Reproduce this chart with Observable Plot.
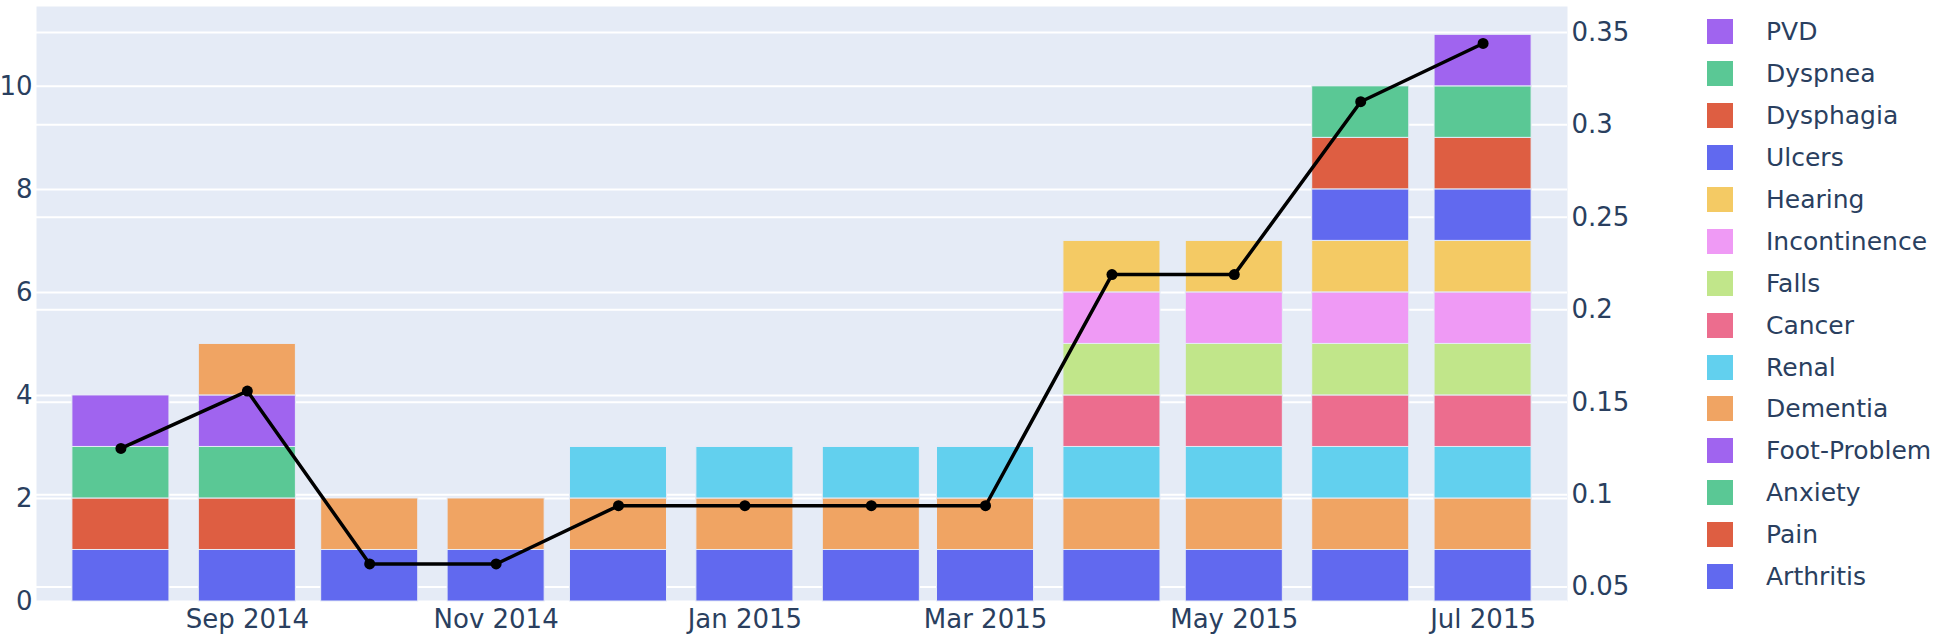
<!DOCTYPE html>
<html>
<head>
<meta charset="utf-8">
<script src="https://cdn.jsdelivr.net/npm/d3@7"></script>
<script src="https://cdn.jsdelivr.net/npm/@observablehq/plot@0.6"></script>
<style>
  html, body { margin: 0; padding: 0; background: #ffffff; }
  #wrap { position: relative; width: 1944px; height: 641px; font-family: "DejaVu Sans", Verdana, sans-serif; }
  #legend { position: absolute; left: 1707px; top: 11px; color: #2a3f5f; font-size: 25px; }
  .row { display: flex; align-items: center; height: 41.9px; }
  .sw { width: 26px; height: 25px; margin-right: 33px; }
</style>
</head>
<body>
<div id="wrap"><div id="chart"></div><div id="legend"></div></div>
<script>
// ---- data ----
const months = ["2014-08-01","2014-09-01","2014-10-01","2014-11-01","2014-12-01","2015-01-01",
                "2015-02-01","2015-03-01","2015-04-01","2015-05-01","2015-06-01","2015-07-01"];
const seriesNames = ["Arthritis","Pain","Anxiety","Foot-Problem","Dementia","Renal","Cancer",
                     "Falls","Incontinence","Hearing","Ulcers","Dysphagia","Dyspnea","PVD"];
const seriesColors = ["#6169ef","#de5e42","#5ac895","#a064ef","#f0a463","#62d0ee","#ec6d8e",
                      "#c1e68a","#ef9af5","#f4ca64","#6169ef","#de5e42","#5ac895","#a064ef"];
const arthritis    = [1,1,1,1,1,1,1,1,1,1,1,1];
const pain         = [1,1,0,0,0,0,0,0,0,0,0,0];
const anxiety      = [1,1,0,0,0,0,0,0,0,0,0,0];
const footProblem  = [1,1,0,0,0,0,0,0,0,0,0,0];
const dementia     = [0,1,1,1,1,1,1,1,1,1,1,1];
const renal        = [0,0,0,0,1,1,1,1,1,1,1,1];
const cancer       = [0,0,0,0,0,0,0,0,1,1,1,1];
const falls        = [0,0,0,0,0,0,0,0,1,1,1,1];
const incontinence = [0,0,0,0,0,0,0,0,1,1,1,1];
const hearing      = [0,0,0,0,0,0,0,0,1,1,1,1];
const ulcers       = [0,0,0,0,0,0,0,0,0,0,1,1];
const dysphagia    = [0,0,0,0,0,0,0,0,0,0,1,1];
const dyspnea      = [0,0,0,0,0,0,0,0,0,0,1,1];
const pvd          = [0,0,0,0,0,0,0,0,0,0,0,1];
const ratio = [0.125,0.156,0.0625,0.0625,0.094,0.094,0.094,0.094,0.219,0.219,0.3125,0.344];
const leftTicks = [0,2,4,6,8,10];
const rightTicks = [0.05,0.1,0.15,0.2,0.25,0.3,0.35];
const xTickDates = ["2014-09-01","2014-11-01","2015-01-01","2015-03-01","2015-05-01","2015-07-01"];

// ---- build tables ----
const seriesValues = [arthritis,pain,anxiety,footProblem,dementia,renal,cancer,falls,incontinence,hearing,ulcers,dysphagia,dyspnea,pvd];
const dates = months.map(d => new Date(d + "T00:00:00Z"));
const rows = [];
dates.forEach((date, i) => {
  let run = 0;
  seriesNames.forEach((s, k) => {
    const v = seriesValues[k][i];
    if (v > 0) rows.push({date, series: s, lo: run, hi: run + v});
    run += v;
  });
});
const lineRows = dates.map((date, i) => ({date, ratio: ratio[i]}));

const DAY = 864e5;
const leftMax = 11.55;
const rDom = [0.0422, 0.3640];
const toLeft = v => (v - rDom[0]) / (rDom[1] - rDom[0]) * leftMax;
const fromLeft = u => rDom[0] + u / leftMax * (rDom[1] - rDom[0]);
const half = 11.9 * DAY;
const pad = 20.7 * DAY;

const chart = Plot.plot({
  width: 1944, height: 641,
  marginLeft: 36, marginRight: 377, marginTop: 6, marginBottom: 40,
  style: {fontFamily: "'DejaVu Sans', Verdana, sans-serif", fontSize: "26px", color: "#2a3f5f", background: "transparent"},
  x: {type: "utc", domain: [new Date(+dates[0] - pad), new Date(+dates[dates.length - 1] + pad)], label: null},
  y: {domain: [0, leftMax], label: null},
  color: {domain: seriesNames, range: seriesColors},
  marks: [
    Plot.frame({fill: "#e5ebf6", stroke: null}),
    Plot.gridY(leftTicks, {stroke: "white", strokeOpacity: 1, strokeWidth: 2}),
    Plot.gridY(rightTicks.map(toLeft), {stroke: "white", strokeOpacity: 1, strokeWidth: 2}),
    Plot.rectY(rows, {x1: d => new Date(+d.date - half), x2: d => new Date(+d.date + half),
                      y1: "lo", y2: "hi", fill: "series", stroke: "#e5ebf6", strokeWidth: 1}),
    Plot.line(lineRows, {x: "date", y: d => toLeft(d.ratio), stroke: "black", strokeWidth: 3.5}),
    Plot.dot(lineRows, {x: "date", y: d => toLeft(d.ratio), r: 5.5, fill: "black"}),
    Plot.axisX(xTickDates.map(d => new Date(d + "T00:00:00Z")), {tickSize: 0, tickPadding: 8,
      tickFormat: d3.utcFormat("%b %Y"), label: null}),
    Plot.axisY(leftTicks, {anchor: "left", tickSize: 0, tickPadding: 4, label: null,
      tickFormat: d => String(d)}),
    Plot.axisY(rightTicks.map(toLeft), {anchor: "right", tickSize: 0, tickPadding: 4, label: null,
      tickFormat: d => String(+fromLeft(d).toFixed(2))})
  ]
});
document.getElementById("chart").appendChild(chart);

// ---- legend (reversed trace order, as in the reference) ----
const legend = document.getElementById("legend");
seriesNames.slice().reverse().forEach((s) => {
  const k = seriesNames.indexOf(s);
  const row = document.createElement("div");
  row.className = "row";
  const sw = document.createElement("div");
  sw.className = "sw";
  sw.style.background = seriesColors[k];
  const t = document.createElement("span");
  t.textContent = s;
  row.appendChild(sw); row.appendChild(t);
  legend.appendChild(row);
});
</script>
</body>
</html>
